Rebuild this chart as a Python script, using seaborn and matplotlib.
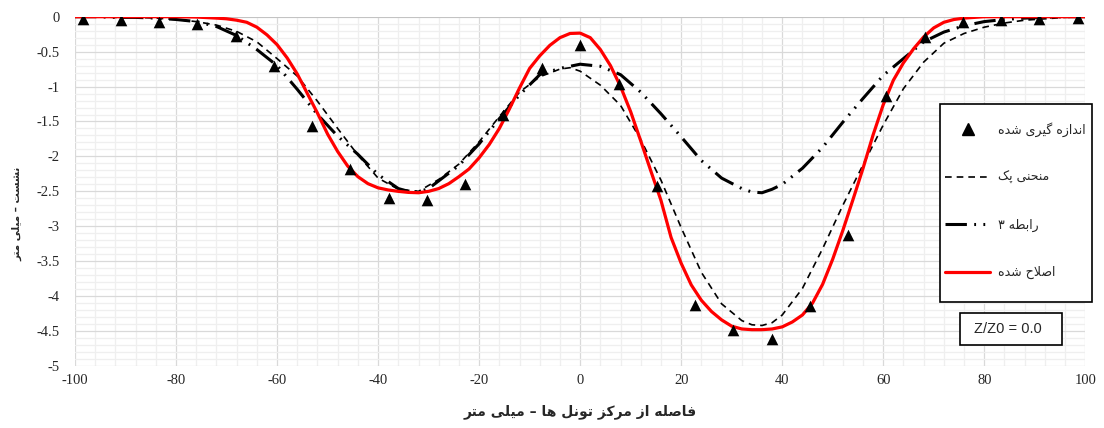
import numpy as np
import seaborn as sns
import matplotlib
matplotlib.use("Agg")
import matplotlib.pyplot as plt
from matplotlib.lines import Line2D
from matplotlib.patches import Rectangle
from matplotlib.ticker import MultipleLocator

# measured settlement (triangles)
meas_x = [-98.5, -90.9, -83.3, -75.8, -68.2, -60.6, -53.0, -45.5, -37.9, -30.3, -22.7, -15.2, -7.6, 0.0,
          7.6, 15.2, 22.7, 30.3, 37.9, 45.5, 53.0, 60.6, 68.2, 75.8, 83.3, 90.9, 98.5]
meas_y = [-0.03, -0.05, -0.07, -0.10, -0.27, -0.71, -1.57, -2.18, -2.59, -2.62, -2.40, -1.40, -0.73, -0.40,
          -0.97, -2.43, -4.13, -4.48, -4.61, -4.14, -3.12, -1.14, -0.29, -0.08, -0.05, -0.03, -0.02]

# Peck curve (dashed)
peck_x = [-100, -96, -92, -88, -84, -80, -76, -72, -68, -64, -60, -56, -52, -48, -44, -40, -36, -32, -28, -24,
          -20, -16, -12, -8, -4, -2, 0, 4, 8, 12, 16, 20, 24, 28, 32, 34, 36, 38, 40, 44, 48, 52, 56, 60, 64,
          68, 72, 76, 80, 84, 88, 92, 96, 100]
peck_y = [0, 0, -0.01, -0.01, -0.02, -0.04, -0.07, -0.12, -0.21, -0.36, -0.60, -0.85, -1.21, -1.60, -1.98,
          -2.31, -2.47, -2.50, -2.33, -2.11, -1.79, -1.43, -1.08, -0.86, -0.75, -0.73, -0.78, -0.98, -1.27,
          -1.76, -2.34, -3.02, -3.66, -4.11, -4.35, -4.41, -4.42, -4.38, -4.27, -3.89, -3.32, -2.70, -2.12,
          -1.55, -1.03, -0.65, -0.38, -0.24, -0.15, -0.09, -0.05, -0.03, -0.01, 0]

# relation 3 (dash-dot-dot)
rel_x = [-100, -96, -92, -88, -84, -80, -76, -72, -68, -64, -60, -56, -52, -48, -44, -40, -36, -34, -32, -30,
         -28, -24, -20, -16, -12, -8, -4, 0, 4, 8, 12, 16, 20, 24, 28, 32, 34, 36, 38, 40, 44, 48, 52, 56, 60,
         64, 68, 72, 76, 80, 84, 88, 92, 96, 100]
rel_y = [0, 0, -0.01, -0.01, -0.02, -0.04, -0.07, -0.14, -0.27, -0.47, -0.70, -1.04, -1.40, -1.71, -1.97,
         -2.26, -2.46, -2.50, -2.51, -2.46, -2.35, -2.13, -1.82, -1.46, -1.12, -0.83, -0.74, -0.68, -0.71,
         -0.83, -1.08, -1.39, -1.72, -2.06, -2.31, -2.46, -2.51, -2.52, -2.47, -2.40, -2.17, -1.87, -1.51,
         -1.17, -0.84, -0.60, -0.36, -0.22, -0.13, -0.07, -0.04, -0.02, -0.01, 0, 0]

# modified curve (red)
red_x = [-100, -96, -92, -88, -84, -80, -76, -72, -70, -68, -66, -64, -62, -60, -58, -56, -54, -52, -50, -48,
         -46, -44, -42, -40, -38, -36, -34, -32, -30, -28, -26, -24, -22, -20, -18, -16, -14, -12, -10, -8,
         -6, -4, -2, 0, 2, 4, 6, 8, 10, 12, 14, 16, 18, 20, 22, 24, 26, 28, 30, 32, 34, 36, 38, 40, 42, 44,
         46, 48, 50, 52, 54, 56, 58, 60, 62, 64, 66, 68, 70, 72, 74, 76, 78, 80, 84, 88, 92, 96, 100]
red_y = [0, 0, 0, 0, 0, 0, -0.005, -0.02, -0.03, -0.05, -0.08, -0.15, -0.26, -0.40, -0.59, -0.82, -1.10,
         -1.38, -1.68, -1.93, -2.14, -2.29, -2.39, -2.45, -2.48, -2.50, -2.515, -2.52, -2.50, -2.46, -2.39,
         -2.29, -2.18, -2.02, -1.83, -1.60, -1.32, -1.02, -0.74, -0.56, -0.41, -0.30, -0.24, -0.235, -0.30,
         -0.47, -0.70, -1.00, -1.36, -1.78, -2.21, -2.63, -3.16, -3.53, -3.84, -4.06, -4.22, -4.34, -4.43,
         -4.47, -4.48, -4.48, -4.47, -4.44, -4.37, -4.27, -4.10, -3.83, -3.47, -3.06, -2.62, -2.17, -1.69,
         -1.26, -0.91, -0.66, -0.46, -0.29, -0.16, -0.08, -0.04, -0.02, -0.01, 0, 0, 0, 0, 0, 0]

x_ticks = [-100, -80, -60, -40, -20, 0, 20, 40, 60, 80, 100]
y_ticks = [-5, -4.5, -4, -3.5, -3, -2.5, -2, -1.5, -1, -0.5, 0]
y_labels = ['-5', '-4.5', '-4', '-3.5', '-3', '-2.5', '-2', '-1.5', '-1', '-0.5', '0']

legend_labels = ['اندازه گیری شده', 'منحنی پک', 'رابطه ۳', 'اصلاح شده']
x_title = 'فاصله از مرکز تونل ها – میلی متر'
y_title = 'نشست – میلی متر'
box_text = 'Z/Z0 = 0.0'


# matplotlib has no arabic shaping, so pick the presentation forms by hand
FORMS = {
    'ا': ('\ufe8d', '\ufe8e', None, None),
    'ب': ('\ufe8f', '\ufe90', '\ufe91', '\ufe92'),
    'پ': ('\ufb56', '\ufb57', '\ufb58', '\ufb59'),
    'ت': ('\ufe95', '\ufe96', '\ufe97', '\ufe98'),
    'ح': ('\ufea1', '\ufea2', '\ufea3', '\ufea4'),
    'د': ('\ufea9', '\ufeaa', None, None),
    'ر': ('\ufead', '\ufeae', None, None),
    'ز': ('\ufeaf', '\ufeb0', None, None),
    'س': ('\ufeb1', '\ufeb2', '\ufeb3', '\ufeb4'),
    'ش': ('\ufeb5', '\ufeb6', '\ufeb7', '\ufeb8'),
    'ص': ('\ufeb9', '\ufeba', '\ufebb', '\ufebc'),
    'ط': ('\ufec1', '\ufec2', '\ufec3', '\ufec4'),
    'ف': ('\ufed1', '\ufed2', '\ufed3', '\ufed4'),
    '\u06a9': ('\ufb8e', '\ufb8f', '\ufb90', '\ufb91'),
    '\u0643': ('\ufb8e', '\ufb8f', '\ufb90', '\ufb91'),
    'گ': ('\ufb92', '\ufb93', '\ufb94', '\ufb95'),
    'ل': ('\ufedd', '\ufede', '\ufedf', '\ufee0'),
    'م': ('\ufee1', '\ufee2', '\ufee3', '\ufee4'),
    'ن': ('\ufee5', '\ufee6', '\ufee7', '\ufee8'),
    'ه': ('\ufee9', '\ufeea', '\ufeeb', '\ufeec'),
    'و': ('\ufeed', '\ufeee', None, None),
    '\u06cc': ('\ufbfc', '\ufbfd', '\ufbfe', '\ufbff'),
    '\u064a': ('\ufbfc', '\ufbfd', '\ufbfe', '\ufbff'),
    '\u0649': ('\ufbfc', '\ufbfd', '\ufbfe', '\ufbff'),
}


def shape(text):
    out = []
    i = 0
    while i < len(text):
        c = text[i]
        if c not in FORMS:
            out.append(c)
            i += 1
            continue
        prev = text[i - 1] if i > 0 else ''
        joins_prev = prev in FORMS and FORMS[prev][2] is not None
        if c == 'ل' and i + 1 < len(text) and text[i + 1] == 'ا':
            out.append('\ufefc' if joins_prev else '\ufefb')
            i += 2
            continue
        nxt = text[i + 1] if i + 1 < len(text) else ''
        isol, fina, init, medi = FORMS[c]
        joins_next = init is not None and nxt in FORMS
        if joins_prev and joins_next:
            out.append(medi)
        elif joins_prev:
            out.append(fina)
        elif joins_next:
            out.append(init)
        else:
            out.append(isol)
        i += 1
    return ''.join(reversed(out))


sns.set_style("white")
plt.rcParams['font.family'] = ['DejaVu Sans']

W, H = 1104, 428
fig = plt.figure(figsize=(W / 100, H / 100), dpi=100)
ax = fig.add_axes([75 / W, 1 - 366 / H, (1085.3 - 75) / W, (366 - 16.7) / H])

dash_dot = (7, 2.4, 0.6, 2.4, 0.6, 2.4)

sns.lineplot(x=peck_x, y=peck_y, ax=ax, color='black', linewidth=1.2, zorder=3)
ax.lines[-1].set_dashes((4, 3))
sns.lineplot(x=rel_x, y=rel_y, ax=ax, color='black', linewidth=2.2, zorder=3)
ax.lines[-1].set_dashes(dash_dot)
sns.lineplot(x=red_x, y=red_y, ax=ax, color='red', linewidth=2.3, zorder=4)
ax.lines[-1].set_solid_joinstyle('round')
sns.scatterplot(x=meas_x, y=meas_y, ax=ax, marker='^', color='black', s=70, linewidth=0, zorder=5)

ax.set_xlim(-100, 100)
ax.set_ylim(-5, 0)
ax.set_xticks(x_ticks)
ax.set_xticklabels([str(t) for t in x_ticks])
ax.set_yticks(y_ticks)
ax.set_yticklabels(y_labels)
ax.xaxis.set_minor_locator(MultipleLocator(4))
ax.yaxis.set_minor_locator(MultipleLocator(0.1))
ax.grid(which='major', color='#d9d9d9', linewidth=0.9)
ax.grid(which='minor', color='#efefef', linewidth=0.9)
ax.set_axisbelow(True)
ax.tick_params(which='both', length=0)
ax.tick_params(axis='y', pad=11)
ax.tick_params(axis='x', pad=6)
for lab in ax.get_xticklabels() + ax.get_yticklabels():
    lab.set_family('Liberation Serif')
    lab.set_fontsize(10.5)
for sp in ax.spines.values():
    sp.set_visible(False)
ax.axhline(0, color='#bfbfbf', linewidth=1.2, zorder=2)
ax.set_xlabel('')
ax.set_ylabel('')

fig.text(17 / W, 1 - 214 / H, shape(y_title), rotation=90, ha='center', va='center',
         fontsize=7.5, fontweight='bold')
fig.text(580 / W, 1 - 412 / H, shape(x_title), ha='center', va='center',
         fontsize=10, fontweight='bold')

# legend box
fig.add_artist(Rectangle((940 / W, 1 - 302 / H), 152 / W, 198 / H, transform=fig.transFigure,
                         facecolor='white', edgecolor='black', linewidth=1.2, zorder=5))
handles = [
    Line2D([], [], marker='^', color='black', linestyle='none', markersize=8.5),
    Line2D([], [], color='black', linewidth=1.2, dashes=(4, 3)),
    Line2D([], [], color='black', linewidth=2.2, dashes=dash_dot),
    Line2D([], [], color='red', linewidth=2.3),
]
leg = fig.legend(handles, [shape(t) for t in legend_labels], loc='upper left',
                 bbox_to_anchor=(945 / W, 1 - 122 / H), frameon=False, fontsize=9,
                 handlelength=3.6, handletextpad=0.6, labelspacing=2.75,
                 borderpad=0, borderaxespad=0)
leg.set_zorder(6)

# Z/Z0 box
fig.add_artist(Rectangle((960 / W, 1 - 345 / H), 102 / W, 32 / H, transform=fig.transFigure,
                         facecolor='white', edgecolor='black', linewidth=1.2, zorder=5))
fig.text(1008 / W, 1 - 329 / H, box_text, ha='center', va='center', fontsize=10.5,
         family='Liberation Sans', zorder=6)

fig.savefig('out.png', dpi=100)
